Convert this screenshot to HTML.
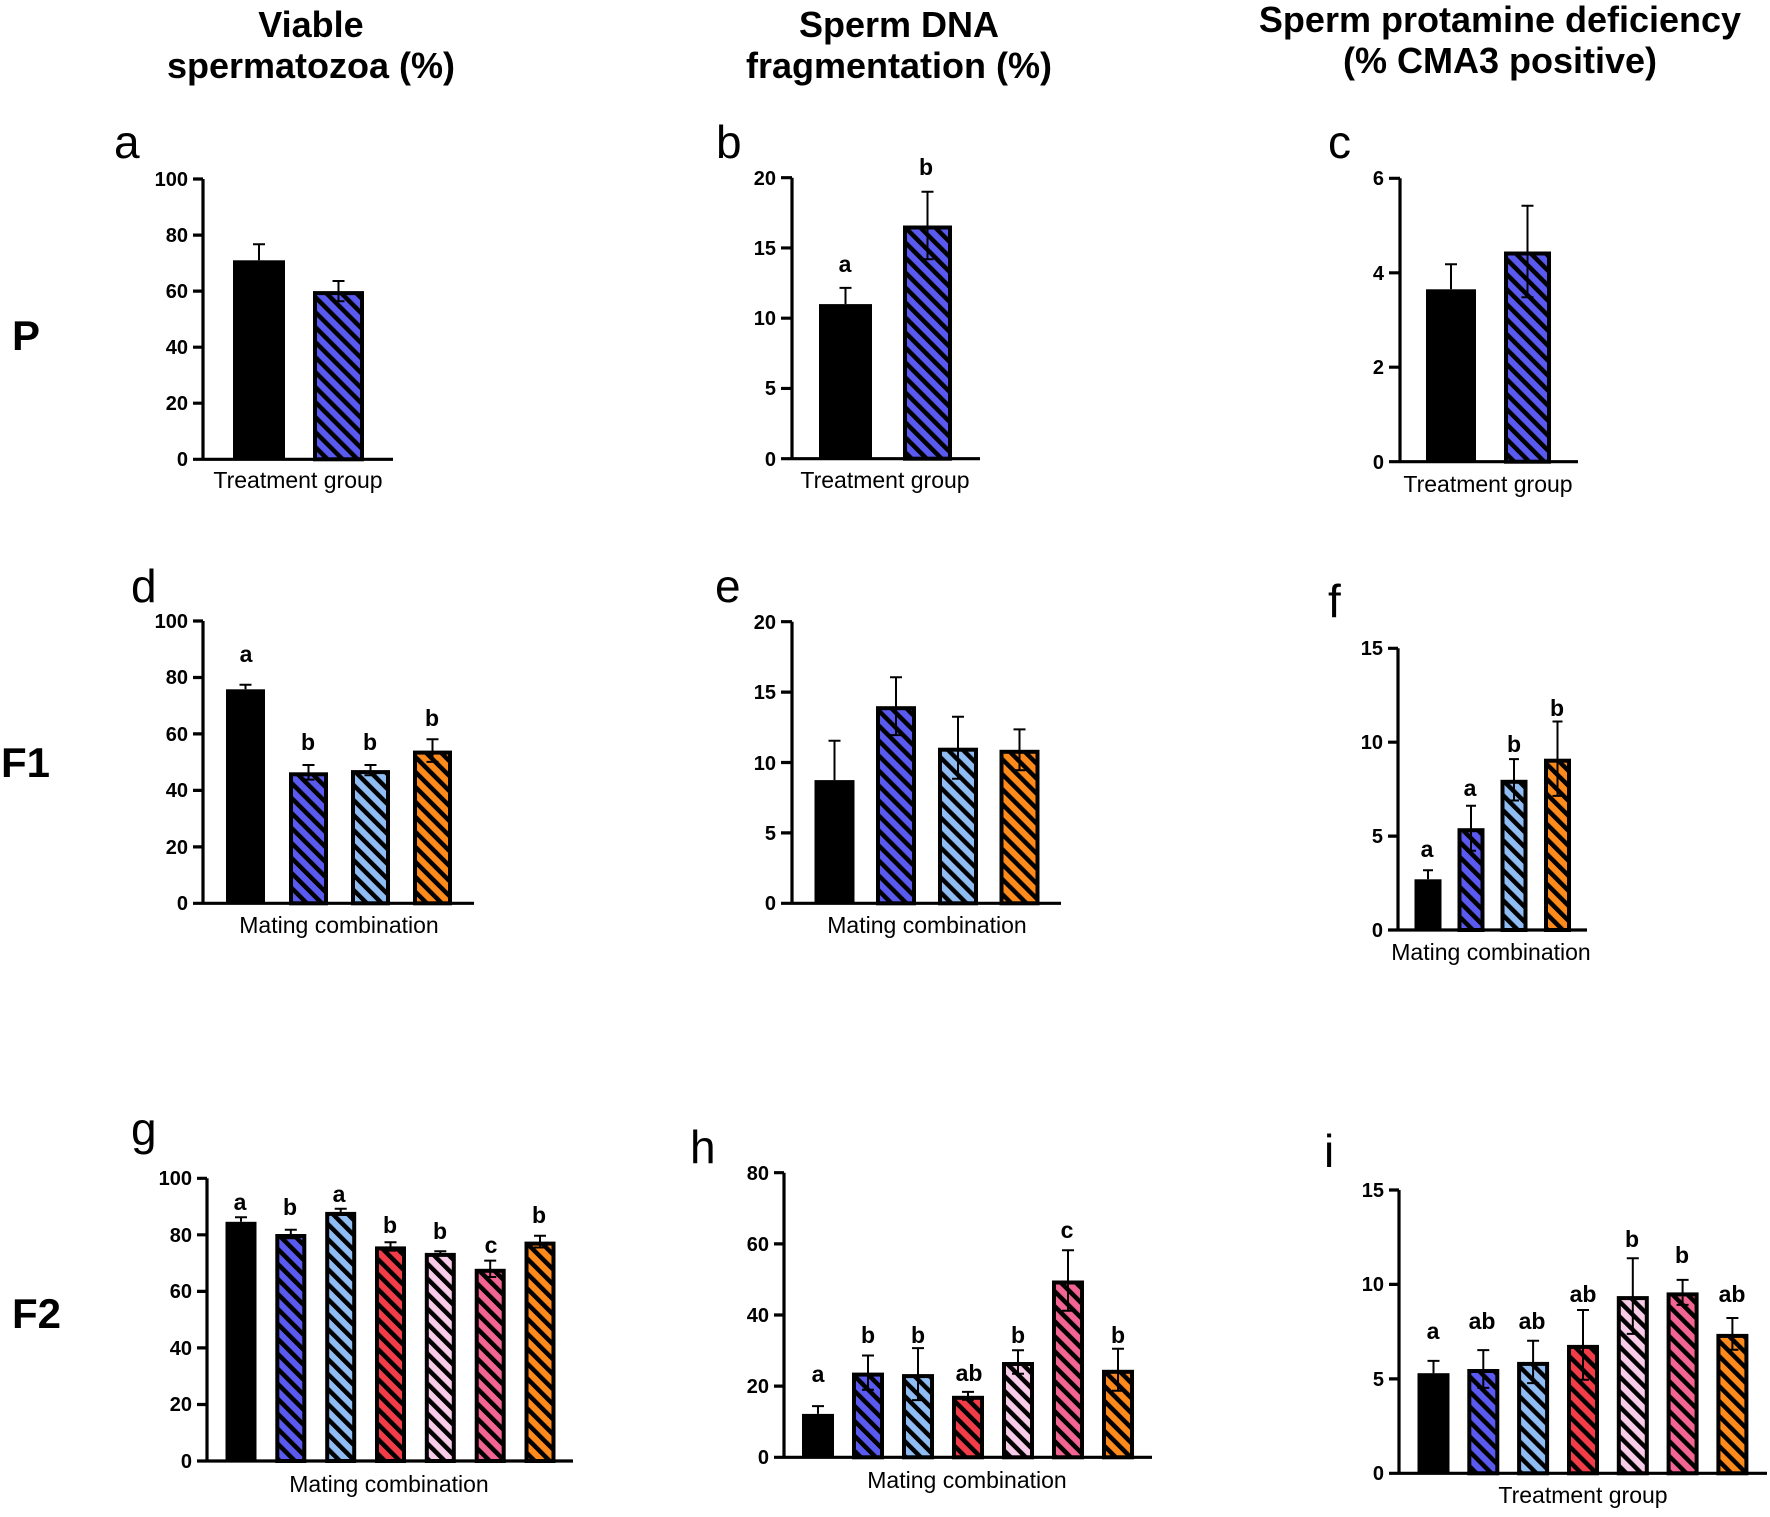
<!DOCTYPE html>
<html><head><meta charset="utf-8"><style>
html,body{margin:0;padding:0;background:#fff}
svg{display:block}
text{font-family:"Liberation Sans",Arial,sans-serif;fill:#000}
.h{font-size:36px;font-weight:bold;text-anchor:middle}
.r{font-size:42px;font-weight:bold}
.p{font-size:46px}
.t{font-size:20px;font-weight:bold;text-anchor:end}
.l{font-size:23px;font-weight:bold;text-anchor:middle}
.x{font-size:23px;text-anchor:middle}
.ax{stroke:#000;stroke-width:3.2;fill:none}
.hb{stroke:#000;stroke-width:4}
.e{stroke:#000;stroke-width:2;fill:none}
</style></head><body>
<svg width="1770" height="1517" viewBox="0 0 1770 1517" xmlns="http://www.w3.org/2000/svg">
<defs>
<pattern id="pB" width="10.6" height="10.6" patternUnits="userSpaceOnUse" patternTransform="rotate(-45)"><rect width="10.6" height="10.6" fill="#5a5af0"/><rect width="4.5" height="10.6" fill="#000"/></pattern>
<pattern id="pL" width="10.6" height="10.6" patternUnits="userSpaceOnUse" patternTransform="rotate(-45)"><rect width="10.6" height="10.6" fill="#8fbdf3"/><rect width="4.5" height="10.6" fill="#000"/></pattern>
<pattern id="pO" width="10.6" height="10.6" patternUnits="userSpaceOnUse" patternTransform="rotate(-45)"><rect width="10.6" height="10.6" fill="#ff8a1c"/><rect width="4.5" height="10.6" fill="#000"/></pattern>
<pattern id="pR" width="10.6" height="10.6" patternUnits="userSpaceOnUse" patternTransform="rotate(-45)"><rect width="10.6" height="10.6" fill="#f23d48"/><rect width="4.5" height="10.6" fill="#000"/></pattern>
<pattern id="pK" width="10.6" height="10.6" patternUnits="userSpaceOnUse" patternTransform="rotate(-45)"><rect width="10.6" height="10.6" fill="#f8cbe8"/><rect width="4.5" height="10.6" fill="#000"/></pattern>
<pattern id="pP" width="10.6" height="10.6" patternUnits="userSpaceOnUse" patternTransform="rotate(-45)"><rect width="10.6" height="10.6" fill="#f26593"/><rect width="4.5" height="10.6" fill="#000"/></pattern>
</defs>
<rect width="1770" height="1517" fill="#fff"/>

<!-- Titles -->
<text class="h" x="311" y="37">Viable</text>
<text class="h" x="311" y="78">spermatozoa (%)</text>
<text class="h" x="899" y="37">Sperm DNA</text>
<text class="h" x="899" y="78">fragmentation (%)</text>
<text class="h" x="1500" y="32">Sperm protamine deficiency</text>
<text class="h" x="1500" y="73">(% CMA3 positive)</text>

<!-- Row labels -->
<text class="r" x="12" y="350">P</text>
<text class="r" x="1" y="777">F1</text>
<text class="r" x="12" y="1328">F2</text>

<!-- Panel letters -->
<text class="p" x="114" y="158">a</text>
<text class="p" x="716" y="158">b</text>
<text class="p" x="1328" y="158">c</text>
<text class="p" x="131" y="602">d</text>
<text class="p" x="715" y="602">e</text>
<text class="p" x="1328" y="617">f</text>
<text class="p" x="131" y="1145">g</text>
<text class="p" x="690" y="1163">h</text>
<text class="p" x="1324" y="1167">i</text>

<!-- ===== Panel a ===== -->
<rect x="233" y="260.3" width="52" height="199" fill="#000"/>
<rect class="hb" x="315" y="293.1" width="47" height="166.2" fill="url(#pB)"/>
<path class="e" d="M259,260.3V244.3M253,244.3H265"/>
<path class="e" d="M338.5,301.2V281M332.5,281H344.5M332.5,301.2H344.5"/>
<path class="ax" d="M203,179V459.3M193,459.3H393M193,179H203M193,235.1H203M193,291.1H203M193,347.2H203M193,403.2H203"/>
<text class="t" x="188" y="186">100</text>
<text class="t" x="188" y="242">80</text>
<text class="t" x="188" y="298">60</text>
<text class="t" x="188" y="354">40</text>
<text class="t" x="188" y="410">20</text>
<text class="t" x="188" y="466">0</text>
<text class="x" x="298" y="488">Treatment group</text>

<!-- ===== Panel b ===== -->
<rect x="819" y="304.1" width="53" height="154.6" fill="#000"/>
<rect class="hb" x="905" y="227.5" width="45" height="231.2" fill="url(#pB)"/>
<path class="e" d="M845.5,304.1V287.9M839.5,287.9H851.5"/>
<path class="e" d="M927.5,259.2V191.8M921.5,191.8H933.5M921.5,259.2H933.5"/>
<path class="ax" d="M792,177.7V458.7M781,458.7H980M781,177.7H792M781,247.95H792M781,318.2H792M781,388.45H792"/>
<text class="t" x="776" y="185">20</text>
<text class="t" x="776" y="255">15</text>
<text class="t" x="776" y="325">10</text>
<text class="t" x="776" y="395">5</text>
<text class="t" x="776" y="466">0</text>
<text class="l" x="845" y="272">a</text>
<text class="l" x="926" y="175">b</text>
<text class="x" x="885" y="488">Treatment group</text>

<!-- ===== Panel c ===== -->
<rect x="1426" y="289.3" width="50" height="172.4" fill="#000"/>
<rect class="hb" x="1506" y="253.5" width="43" height="208.2" fill="url(#pB)"/>
<path class="e" d="M1451,289.3V264.3M1445,264.3H1457"/>
<path class="e" d="M1527.5,297.3V205.7M1521.5,205.7H1533.5M1521.5,297.3H1533.5"/>
<path class="ax" d="M1400,178.3V461.7M1389,461.7H1578M1389,178.3H1400M1389,272.8H1400M1389,367.2H1400"/>
<text class="t" x="1384" y="185">6</text>
<text class="t" x="1384" y="280">4</text>
<text class="t" x="1384" y="374">2</text>
<text class="t" x="1384" y="469">0</text>
<text class="x" x="1488" y="492">Treatment group</text>

<!-- ===== Panel d ===== -->
<rect x="226" y="689.3" width="39" height="214" fill="#000"/>
<rect class="hb" x="291" y="774.3" width="35" height="129" fill="url(#pB)"/>
<rect class="hb" x="353" y="772.1" width="35" height="131.2" fill="url(#pL)"/>
<rect class="hb" x="415" y="752.6" width="35" height="150.7" fill="url(#pO)"/>
<path class="e" d="M245.5,689.3V684.8M239.5,684.8H251.5"/>
<path class="e" d="M308.5,779.6V765M302.5,765H314.5M302.5,779.6H314.5"/>
<path class="e" d="M370.5,775.2V765M364.5,765H376.5M364.5,775.2H376.5"/>
<path class="e" d="M432.5,761.9V739.3M426.5,739.3H438.5M426.5,761.9H438.5"/>
<path class="ax" d="M203,621V903.3M193,903.3H474M193,621H203M193,677.5H203M193,733.9H203M193,790.4H203M193,846.9H203"/>
<text class="t" x="188" y="628">100</text>
<text class="t" x="188" y="684">80</text>
<text class="t" x="188" y="741">60</text>
<text class="t" x="188" y="797">40</text>
<text class="t" x="188" y="854">20</text>
<text class="t" x="188" y="910">0</text>
<text class="l" x="246" y="662">a</text>
<text class="l" x="308" y="750">b</text>
<text class="l" x="370" y="750">b</text>
<text class="l" x="432" y="726">b</text>
<text class="x" x="339" y="933">Mating combination</text>

<!-- ===== Panel e ===== -->
<rect x="814.5" y="780.1" width="40" height="123.2" fill="#000"/>
<rect class="hb" x="878" y="708.2" width="36" height="195.1" fill="url(#pB)"/>
<rect class="hb" x="940" y="749.7" width="36" height="153.6" fill="url(#pL)"/>
<rect class="hb" x="1001.5" y="751.8" width="36" height="151.5" fill="url(#pO)"/>
<path class="e" d="M834.5,780.1V740.7M828.5,740.7H840.5"/>
<path class="e" d="M896,735.1V677.3M890,677.3H902M890,735.1H902"/>
<path class="e" d="M958,778.7V716.7M952,716.7H964M952,778.7H964"/>
<path class="e" d="M1019.5,770.2V729.4M1013.5,729.4H1025.5M1013.5,770.2H1025.5"/>
<path class="ax" d="M792,621.7V903.3M781,903.3H1061M781,621.7H792M781,692.1H792M781,762.5H792M781,832.9H792"/>
<text class="t" x="776" y="629">20</text>
<text class="t" x="776" y="699">15</text>
<text class="t" x="776" y="770">10</text>
<text class="t" x="776" y="840">5</text>
<text class="t" x="776" y="910">0</text>
<text class="x" x="927" y="933">Mating combination</text>

<!-- ===== Panel f ===== -->
<rect x="1414.5" y="879.3" width="27" height="50.7" fill="#000"/>
<rect class="hb" x="1459.5" y="830.2" width="23" height="99.8" fill="url(#pB)"/>
<rect class="hb" x="1502.5" y="781.8" width="23" height="148.2" fill="url(#pL)"/>
<rect class="hb" x="1546" y="760.7" width="23" height="169.3" fill="url(#pO)"/>
<path class="e" d="M1428,879.3V870.3M1423,870.3H1433"/>
<path class="e" d="M1471,850.7V805.7M1466,805.7H1476M1466,850.7H1476"/>
<path class="e" d="M1514,800.5V759.1M1509,759.1H1519M1509,800.5H1519"/>
<path class="e" d="M1557.5,795.9V721.5M1552.5,721.5H1562.5M1552.5,795.9H1562.5"/>
<path class="ax" d="M1398,648.3V930M1388,930H1587M1388,648.3H1398M1388,742.2H1398M1388,836.1H1398"/>
<text class="t" x="1383" y="655">15</text>
<text class="t" x="1383" y="749">10</text>
<text class="t" x="1383" y="843">5</text>
<text class="t" x="1383" y="937">0</text>
<text class="l" x="1427" y="857">a</text>
<text class="l" x="1470" y="796">a</text>
<text class="l" x="1514" y="752">b</text>
<text class="l" x="1557" y="716">b</text>
<text class="x" x="1491" y="960">Mating combination</text>

<!-- ===== Panel g ===== -->
<rect x="225.5" y="1221.8" width="31" height="239.2" fill="#000"/>
<rect class="hb" x="277.3" y="1236" width="27" height="225" fill="url(#pB)"/>
<rect class="hb" x="327.2" y="1213.9" width="27" height="247.1" fill="url(#pL)"/>
<rect class="hb" x="377" y="1248.4" width="27" height="212.6" fill="url(#pR)"/>
<rect class="hb" x="426.8" y="1254.9" width="27" height="206.1" fill="url(#pK)"/>
<rect class="hb" x="476.7" y="1270.8" width="27" height="190.2" fill="url(#pP)"/>
<rect class="hb" x="526.5" y="1243.6" width="27" height="217.4" fill="url(#pO)"/>
<path class="e" d="M241,1221.8V1217.3M235,1217.3H247"/>
<path class="e" d="M290.8,1238.2V1229.8M284.8,1229.8H296.8M284.8,1238.2H296.8"/>
<path class="e" d="M340.7,1215V1208.8M334.7,1208.8H346.7M334.7,1215H346.7"/>
<path class="e" d="M390.5,1250.6V1242.2M384.5,1242.2H396.5M384.5,1250.6H396.5"/>
<path class="e" d="M440.3,1254.6V1251.2M434.3,1251.2H446.3M434.3,1254.6H446.3"/>
<path class="e" d="M490.2,1277V1260.6M484.2,1260.6H496.2M484.2,1277H496.2"/>
<path class="e" d="M540,1247.5V1235.7M534,1235.7H546M534,1247.5H546"/>
<path class="ax" d="M207,1178.3V1461M197,1461H573M197,1178.3H207M197,1234.8H207M197,1291.4H207M197,1347.9H207M197,1404.5H207"/>
<text class="t" x="192" y="1185">100</text>
<text class="t" x="192" y="1242">80</text>
<text class="t" x="192" y="1298">60</text>
<text class="t" x="192" y="1355">40</text>
<text class="t" x="192" y="1411">20</text>
<text class="t" x="192" y="1468">0</text>
<text class="l" x="240" y="1210">a</text>
<text class="l" x="290" y="1215">b</text>
<text class="l" x="339" y="1202">a</text>
<text class="l" x="390" y="1233">b</text>
<text class="l" x="440" y="1239">b</text>
<text class="l" x="491" y="1253">c</text>
<text class="l" x="539" y="1223">b</text>
<text class="x" x="389" y="1492">Mating combination</text>

<!-- ===== Panel h ===== -->
<rect x="802" y="1413.9" width="32" height="43.4" fill="#000"/>
<rect class="hb" x="854" y="1374.6" width="28" height="82.7" fill="url(#pB)"/>
<rect class="hb" x="904" y="1376.1" width="28" height="81.2" fill="url(#pL)"/>
<rect class="hb" x="954" y="1397.8" width="28" height="59.5" fill="url(#pR)"/>
<rect class="hb" x="1004" y="1364" width="28" height="93.3" fill="url(#pK)"/>
<rect class="hb" x="1054" y="1282.5" width="28" height="174.8" fill="url(#pP)"/>
<rect class="hb" x="1104" y="1371.8" width="28" height="85.5" fill="url(#pO)"/>
<path class="e" d="M818,1413.9V1406.1M812,1406.1H824"/>
<path class="e" d="M868,1389.7V1355.5M862,1355.5H874M862,1389.7H874"/>
<path class="e" d="M918,1400.1V1348.1M912,1348.1H924M912,1400.1H924"/>
<path class="e" d="M968,1399.7V1391.9M962,1391.9H974M962,1399.7H974"/>
<path class="e" d="M1018,1373.7V1350.3M1012,1350.3H1024M1012,1373.7H1024"/>
<path class="e" d="M1068,1310.7V1250.3M1062,1250.3H1074M1062,1310.7H1074"/>
<path class="e" d="M1118,1390.8V1348.8M1112,1348.8H1124M1112,1390.8H1124"/>
<path class="ax" d="M784,1172.7V1457.3M774,1457.3H1152M774,1172.7H784M774,1243.85H784M774,1315H784M774,1386.15H784"/>
<text class="t" x="769" y="1180">80</text>
<text class="t" x="769" y="1251">60</text>
<text class="t" x="769" y="1322">40</text>
<text class="t" x="769" y="1393">20</text>
<text class="t" x="769" y="1464">0</text>
<text class="l" x="818" y="1382">a</text>
<text class="l" x="868" y="1343">b</text>
<text class="l" x="918" y="1343">b</text>
<text class="l" x="969" y="1381">ab</text>
<text class="l" x="1018" y="1343">b</text>
<text class="l" x="1067" y="1238">c</text>
<text class="l" x="1118" y="1343">b</text>
<text class="x" x="967" y="1488">Mating combination</text>

<!-- ===== Panel i ===== -->
<rect x="1417.5" y="1373.2" width="32" height="100.1" fill="#000"/>
<rect class="hb" x="1469.3" y="1371" width="28" height="102.3" fill="url(#pB)"/>
<rect class="hb" x="1519.1" y="1363.9" width="28" height="109.4" fill="url(#pL)"/>
<rect class="hb" x="1569" y="1346.9" width="28" height="126.4" fill="url(#pR)"/>
<rect class="hb" x="1618.8" y="1298.1" width="28" height="175.2" fill="url(#pK)"/>
<rect class="hb" x="1668.6" y="1294.4" width="28" height="178.9" fill="url(#pP)"/>
<rect class="hb" x="1718.4" y="1335.9" width="28" height="137.4" fill="url(#pO)"/>
<path class="e" d="M1433.5,1373.2V1360.9M1427.5,1360.9H1439.5"/>
<path class="e" d="M1483.3,1387.9V1350.1M1477.3,1350.1H1489.3M1477.3,1387.9H1489.3"/>
<path class="e" d="M1533.1,1383.1V1340.7M1527.1,1340.7H1539.1M1527.1,1383.1H1539.1"/>
<path class="e" d="M1583,1379.8V1310M1577,1310H1589M1577,1379.8H1589"/>
<path class="e" d="M1632.8,1333.9V1258.3M1626.8,1258.3H1638.8M1626.8,1333.9H1638.8"/>
<path class="e" d="M1682.6,1304.9V1279.9M1676.6,1279.9H1688.6M1676.6,1304.9H1688.6"/>
<path class="e" d="M1732.4,1349.8V1318M1726.4,1318H1738.4M1726.4,1349.8H1738.4"/>
<path class="ax" d="M1399,1190V1473.3M1389,1473.3H1767M1389,1190H1399M1389,1284.4H1399M1389,1378.9H1399"/>
<text class="t" x="1384" y="1197">15</text>
<text class="t" x="1384" y="1291">10</text>
<text class="t" x="1384" y="1386">5</text>
<text class="t" x="1384" y="1480">0</text>
<text class="l" x="1433" y="1339">a</text>
<text class="l" x="1482" y="1329">ab</text>
<text class="l" x="1532" y="1329">ab</text>
<text class="l" x="1583" y="1302">ab</text>
<text class="l" x="1632" y="1247">b</text>
<text class="l" x="1682" y="1263">b</text>
<text class="l" x="1732" y="1302">ab</text>
<text class="x" x="1583" y="1503">Treatment group</text>
</svg>
</body></html>
